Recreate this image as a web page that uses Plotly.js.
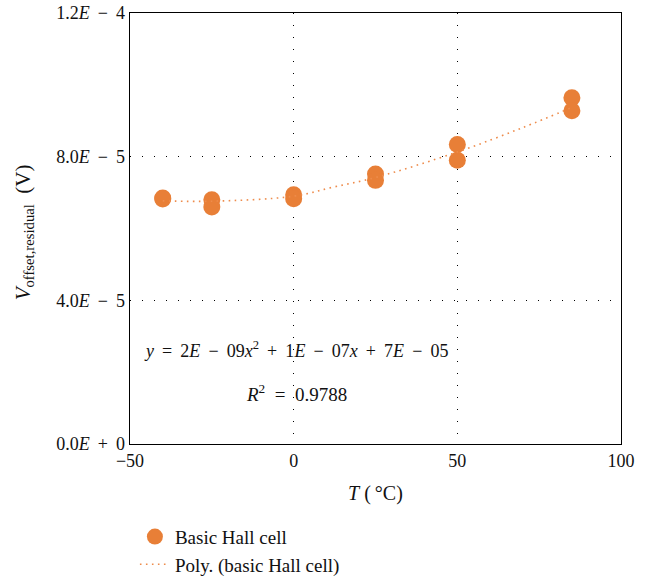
<!DOCTYPE html>
<html>
<head>
<meta charset="utf-8">
<script src="https://cdn.plot.ly/plotly-3.0.1.min.js"></script>
<style>html,body{margin:0;padding:0;background:#fff;}#chart{width:655px;height:578px;}</style>
</head>
<body>
<div id="chart"></div>
<script>
// Measured data (Basic Hall cell)
var temperatureC = [-40, -40, -25, -25, 0, 0, 25, 25, 50, 50, 85, 85];
var voffsetV = [6.85e-5, 6.82e-5, 6.80e-5, 6.60e-5, 6.94e-5, 6.83e-5, 7.52e-5, 7.34e-5, 8.34e-5, 7.90e-5, 9.64e-5, 9.28e-5];
// Polynomial trendline
var trendX = [-40, -25, 0, 12, 25, 50, 70, 85];
var trendY = [6.77e-5, 6.76e-5, 6.90e-5, 7.15e-5, 7.42e-5, 8.13e-5, 8.81e-5, 9.37e-5];
// Axis ticks
var SP = " \u2009";
var xTickVals = [-50, 0, 50, 100];
var xTickText = ["\u221250", "0", "50", "100"];
var yTickVals = [0, 4e-5, 8e-5, 1.2e-4];
var yTickText = ["0.0<i>E</i>" + SP + "+" + SP + "0", "4.0<i>E</i>" + SP + "\u2212" + SP + "5",
                 "8.0<i>E</i>" + SP + "\u2212" + SP + "5", "1.2<i>E</i>" + SP + "\u2212" + SP + "4"];
var seriesNames = ["Basic Hall cell", "Poly. (basic Hall cell)"];
var xTitle = "<i>T</i> (\u2009\u00B0C)";
var yTitle = "<i>V</i><sub>offset,residual</sub>  (V)";

var FONT = "Liberation Serif, Times New Roman, serif";
var ORANGE = "#E87F37";
var TXT = "#111";

var traces = [
  {
    x: temperatureC, y: voffsetV, type: "scatter", mode: "markers",
    name: seriesNames[0],
    marker: {color: ORANGE, size: 17, line: {width: 0}}
  },
  {
    x: trendX, y: trendY, type: "scatter", mode: "lines",
    name: seriesNames[1],
    line: {color: "#EE8C4C", width: 1.6, dash: "1.6px,4.4px", shape: "spline"}
  }
];

var axisCommon = {
  showline: true, linecolor: "#000", linewidth: 1.3, mirror: true,
  ticks: "", zeroline: false,
  showgrid: true, gridcolor: "#000", gridwidth: 1, griddash: "1px,11px",
  tickfont: {family: FONT, size: 18, color: TXT}
};

var eqText = "<i>y</i>" + SP + "=" + SP + "2<i>E</i>" + SP + "\u2212" + SP + "09<i>x</i><sup>2</sup>" + SP + "+" + SP +
             "1<i>E</i>" + SP + "\u2212" + SP + "07<i>x</i>" + SP + "+" + SP + "7<i>E</i>" + SP + "\u2212" + SP + "05";

var layout = {
  width: 655, height: 578,
  margin: {l: 130, r: 34, t: 13, b: 134, autoexpand: false},
  paper_bgcolor: "#fff", plot_bgcolor: "#fff",
  font: {family: FONT, size: 18, color: TXT},
  showlegend: true,
  legend: {
    x: 0.01, xanchor: "left", y: -0.171, yanchor: "top",
    xref: "paper", yref: "paper",
    font: {family: FONT, size: 19, color: TXT},
    bgcolor: "rgba(0,0,0,0)", tracegroupgap: 0, itemwidth: 30
  },
  xaxis: Object.assign({}, axisCommon, {
    range: [-50, 100], tickvals: xTickVals, ticktext: xTickText
  }),
  yaxis: Object.assign({}, axisCommon, {
    range: [0, 1.2e-4], tickvals: yTickVals, ticktext: yTickText
  }),
  annotations: [
    {x: 0.5, y: -0.1144, xref: "paper", yref: "paper", showarrow: false, xanchor: "center", yanchor: "middle",
     text: xTitle, font: {family: FONT, size: 20, color: TXT}},
    {x: -0.216, y: 0.491, xref: "paper", yref: "paper", showarrow: false, xanchor: "center", yanchor: "middle",
     textangle: -90, text: yTitle, font: {family: FONT, size: 21, color: TXT}},
    {x: 0.8, y: 2.62e-5, xref: "x", yref: "y", showarrow: false, xanchor: "center", yanchor: "middle",
     text: eqText, font: {family: FONT, size: 18, color: TXT}},
    {x: 0.8, y: 1.41e-5, xref: "x", yref: "y", showarrow: false, xanchor: "center", yanchor: "middle",
     text: "<i>R</i><sup>2</sup>\u2002=\u20020.9788",
     font: {family: FONT, size: 19, color: TXT}}
  ]
};

Plotly.newPlot("chart", traces, layout, {displayModeBar: false, staticPlot: true});
</script>
</body>
</html>
